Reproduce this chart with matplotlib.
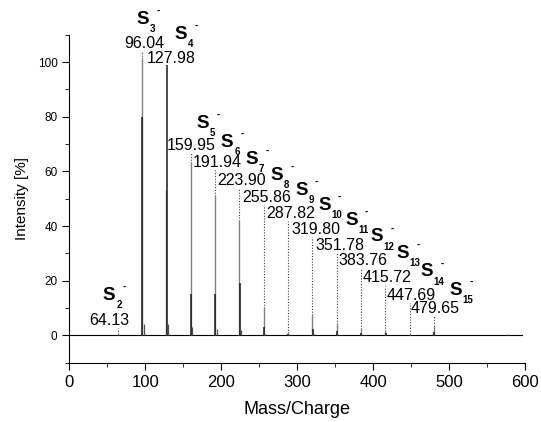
import numpy as np
import matplotlib
matplotlib.use('Agg')
import matplotlib.pyplot as plt
from matplotlib.ticker import MultipleLocator

plt.rcParams['font.family'] = ['Liberation Sans', 'DejaVu Sans']

# spectrum: cluster positions and heights
peak_mass = [64, 96, 128, 160, 192, 224, 256, 288, 320, 352, 384, 416, 448, 480, 576]
gray_height = [0.6, 101, 53, 63, 51, 42, 10, 1.0, 7.3, 4.0, 2.3, 1.7, 0.6, 3.5, 0.4]
black_height = [0.3, 80, 99, 15, 15, 19, 3.0, 0.5, 2.5, 1.5, 1.0, 0.8, 0.3, 1.2, 0.2]
isotope_height = [0.0, 4.0, 4.0, 3.0, 2.5, 2.0, 0.6, 0.1, 0.5, 0.3, 0.2, 0.1, 0.0, 0.3, 0.0]

# S_n^- labels
ion_n = [2, 3, 4, 5, 6, 7, 8, 9, 10, 11, 12, 13, 14, 15]
ion_mass = ['64.13', '96.04', '127.98', '159.95', '191.94', '223.90', '255.86',
            '287.82', '319.80', '351.78', '383.76', '415.72', '447.69', '479.65']

# label layout (data coords)
num_x = [52.4, 98.3, 133.8, 161, 194.3, 227, 260, 292, 324.6, 356.5, 387, 419, 449.6, 481.8]
num_y = [5.5, 106.8, 101.4, 69.5, 63.3, 56.8, 50.5, 44.6, 38.8, 33.0, 27.3, 21.0, 14.6, 9.9]
s_x = [52.6, 96.6, 146.6, 175.5, 207.9, 240.5, 273, 305.5, 336, 371.5, 405, 439, 471, 509]
s_y = [14.6, 115.5, 110, 77.5, 70.7, 64.3, 58.5, 53, 47.6, 42.1, 36, 30, 23.2, 16.5]

fig = plt.figure(figsize=(5.41, 4.22), dpi=100)
ax = fig.add_axes([0.128, 0.1405, 0.8424, 0.7773])

pm = np.array(peak_mass, dtype=float)
ax.plot([0, 596], [0, 0], color='k', lw=0.8)
ax.vlines(pm, 0, gray_height, color='0.5', lw=1.0)
ax.vlines(pm + 0.4, 0, black_height, color='0.1', lw=1.1)
ax.vlines(pm + 2, 0, isotope_height, color='0.3', lw=0.9)

# dotted leaders from peak tops to the mass labels
for i, lab in enumerate(ion_mass):
    m = float(lab)
    j = int(np.argmin(np.abs(pm - m)))
    peak_top = max(gray_height[j], black_height[j])
    top = num_y[i] - 2.8
    if top > peak_top:
        ax.plot([pm[j], pm[j]], [peak_top, top], color='0.25', lw=0.8,
                linestyle=(0, (1, 1.5)))
    ax.text(num_x[i], num_y[i], lab, fontsize=11.5, ha='center', va='center')
    ax.text(s_x[i], s_y[i], 'S', fontsize=13.5, fontweight='bold', ha='center', va='center')
    ax.annotate(str(ion_n[i]), (s_x[i], s_y[i]), xytext=(7 if ion_n[i] < 10 else 8.5, -7),
                textcoords='offset points', fontsize=7, fontweight='bold',
                ha='center', va='center', annotation_clip=False)
    ax.annotate('-', (s_x[i], s_y[i]), xytext=(11, 6), textcoords='offset points',
                fontsize=7, fontweight='bold', ha='center', va='center',
                annotation_clip=False)

ax.set_xlim(0, 600)
ax.set_ylim(-10, 110)
ax.spines['top'].set_visible(False)
ax.spines['right'].set_visible(False)
ax.xaxis.set_major_locator(MultipleLocator(100))
ax.xaxis.set_minor_locator(MultipleLocator(50))
ax.yaxis.set_major_locator(MultipleLocator(20))
ax.yaxis.set_minor_locator(MultipleLocator(10))
ax.tick_params(axis='x', which='major', direction='out', length=5, labelsize=12, pad=4)
ax.tick_params(axis='x', which='minor', direction='out', length=3)
ax.tick_params(axis='y', which='major', direction='out', length=5, labelsize=8.5)
ax.tick_params(axis='y', which='minor', direction='out', length=3)
ax.set_xlabel('Mass/Charge', fontsize=13, labelpad=8)
ax.set_ylabel('Intensity [%]', fontsize=11, labelpad=6)

fig.savefig('out.png', dpi=100)
